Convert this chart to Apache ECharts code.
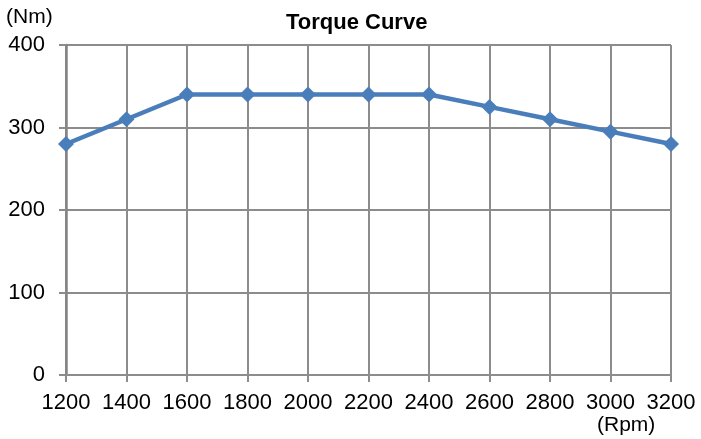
<!DOCTYPE html>
<html style="height: 100%">
<head>
  <meta charset="utf-8">
</head>
<body style="height: 100%; margin: 0; background: #fff">
<div id="chart" style="width: 701px; height: 439px"></div>
<script src="https://cdn.jsdelivr.net/npm/echarts@6/dist/echarts.min.js"></script>
<script>
  var rpm = [1200, 1400, 1600, 1800, 2000, 2200, 2400, 2600, 2800, 3000, 3200];
  var torque = [280, 310, 340, 340, 340, 340, 340, 325, 310, 295, 280];

  var myChart = echarts.init(document.getElementById('chart'));
  var gridColor = '#8c8c8c';
  var font = 'Liberation Sans, Arial, sans-serif';

  var option = {
    animation: false,
    title: {
      text: 'Torque Curve',
      left: 281,
      top: 7,
      textStyle: {fontFamily: font, fontSize: 22, fontWeight: 'bold', color: '#000'}
    },
    grid: {left: 66, right: 30, top: 45, bottom: 64},
    graphic: [
      {type: 'text', left: 6, top: 7, style: {text: '(Nm)', font: '21px ' + font, fill: '#000'}},
      {type: 'text', left: 597, top: 415, style: {text: '(Rpm)', font: '21px ' + font, fill: '#000'}}
    ],
    xAxis: {
      type: 'value',
      min: 1200,
      max: 3200,
      interval: 200,
      axisLine: {lineStyle: {color: gridColor, width: 2}},
      axisTick: {show: true, length: 7, lineStyle: {color: gridColor, width: 2}},
      axisLabel: {fontFamily: font, fontSize: 22, color: '#000', margin: 17,
        formatter: function (v) { return String(v); }},
      splitLine: {show: true, lineStyle: {color: gridColor, width: 2}}
    },
    yAxis: {
      type: 'value',
      min: 0,
      max: 400,
      interval: 100,
      axisLine: {show: true, lineStyle: {color: '#858585', width: 2.5}},
      axisTick: {show: true, length: 7, lineStyle: {color: gridColor, width: 2}},
      axisLabel: {fontFamily: font, fontSize: 22, color: '#000', margin: 21},
      splitLine: {show: true, lineStyle: {color: gridColor, width: 2}}
    },
    series: [{
      type: 'line',
      data: rpm.map(function (r, i) { return [r, torque[i]]; }),
      symbol: 'diamond',
      symbolSize: 16,
      itemStyle: {color: '#4a7ebb'},
      lineStyle: {color: '#4a7ebb', width: 4.5}
    }]
  };
  myChart.setOption(option);
</script>
</body>
</html>
